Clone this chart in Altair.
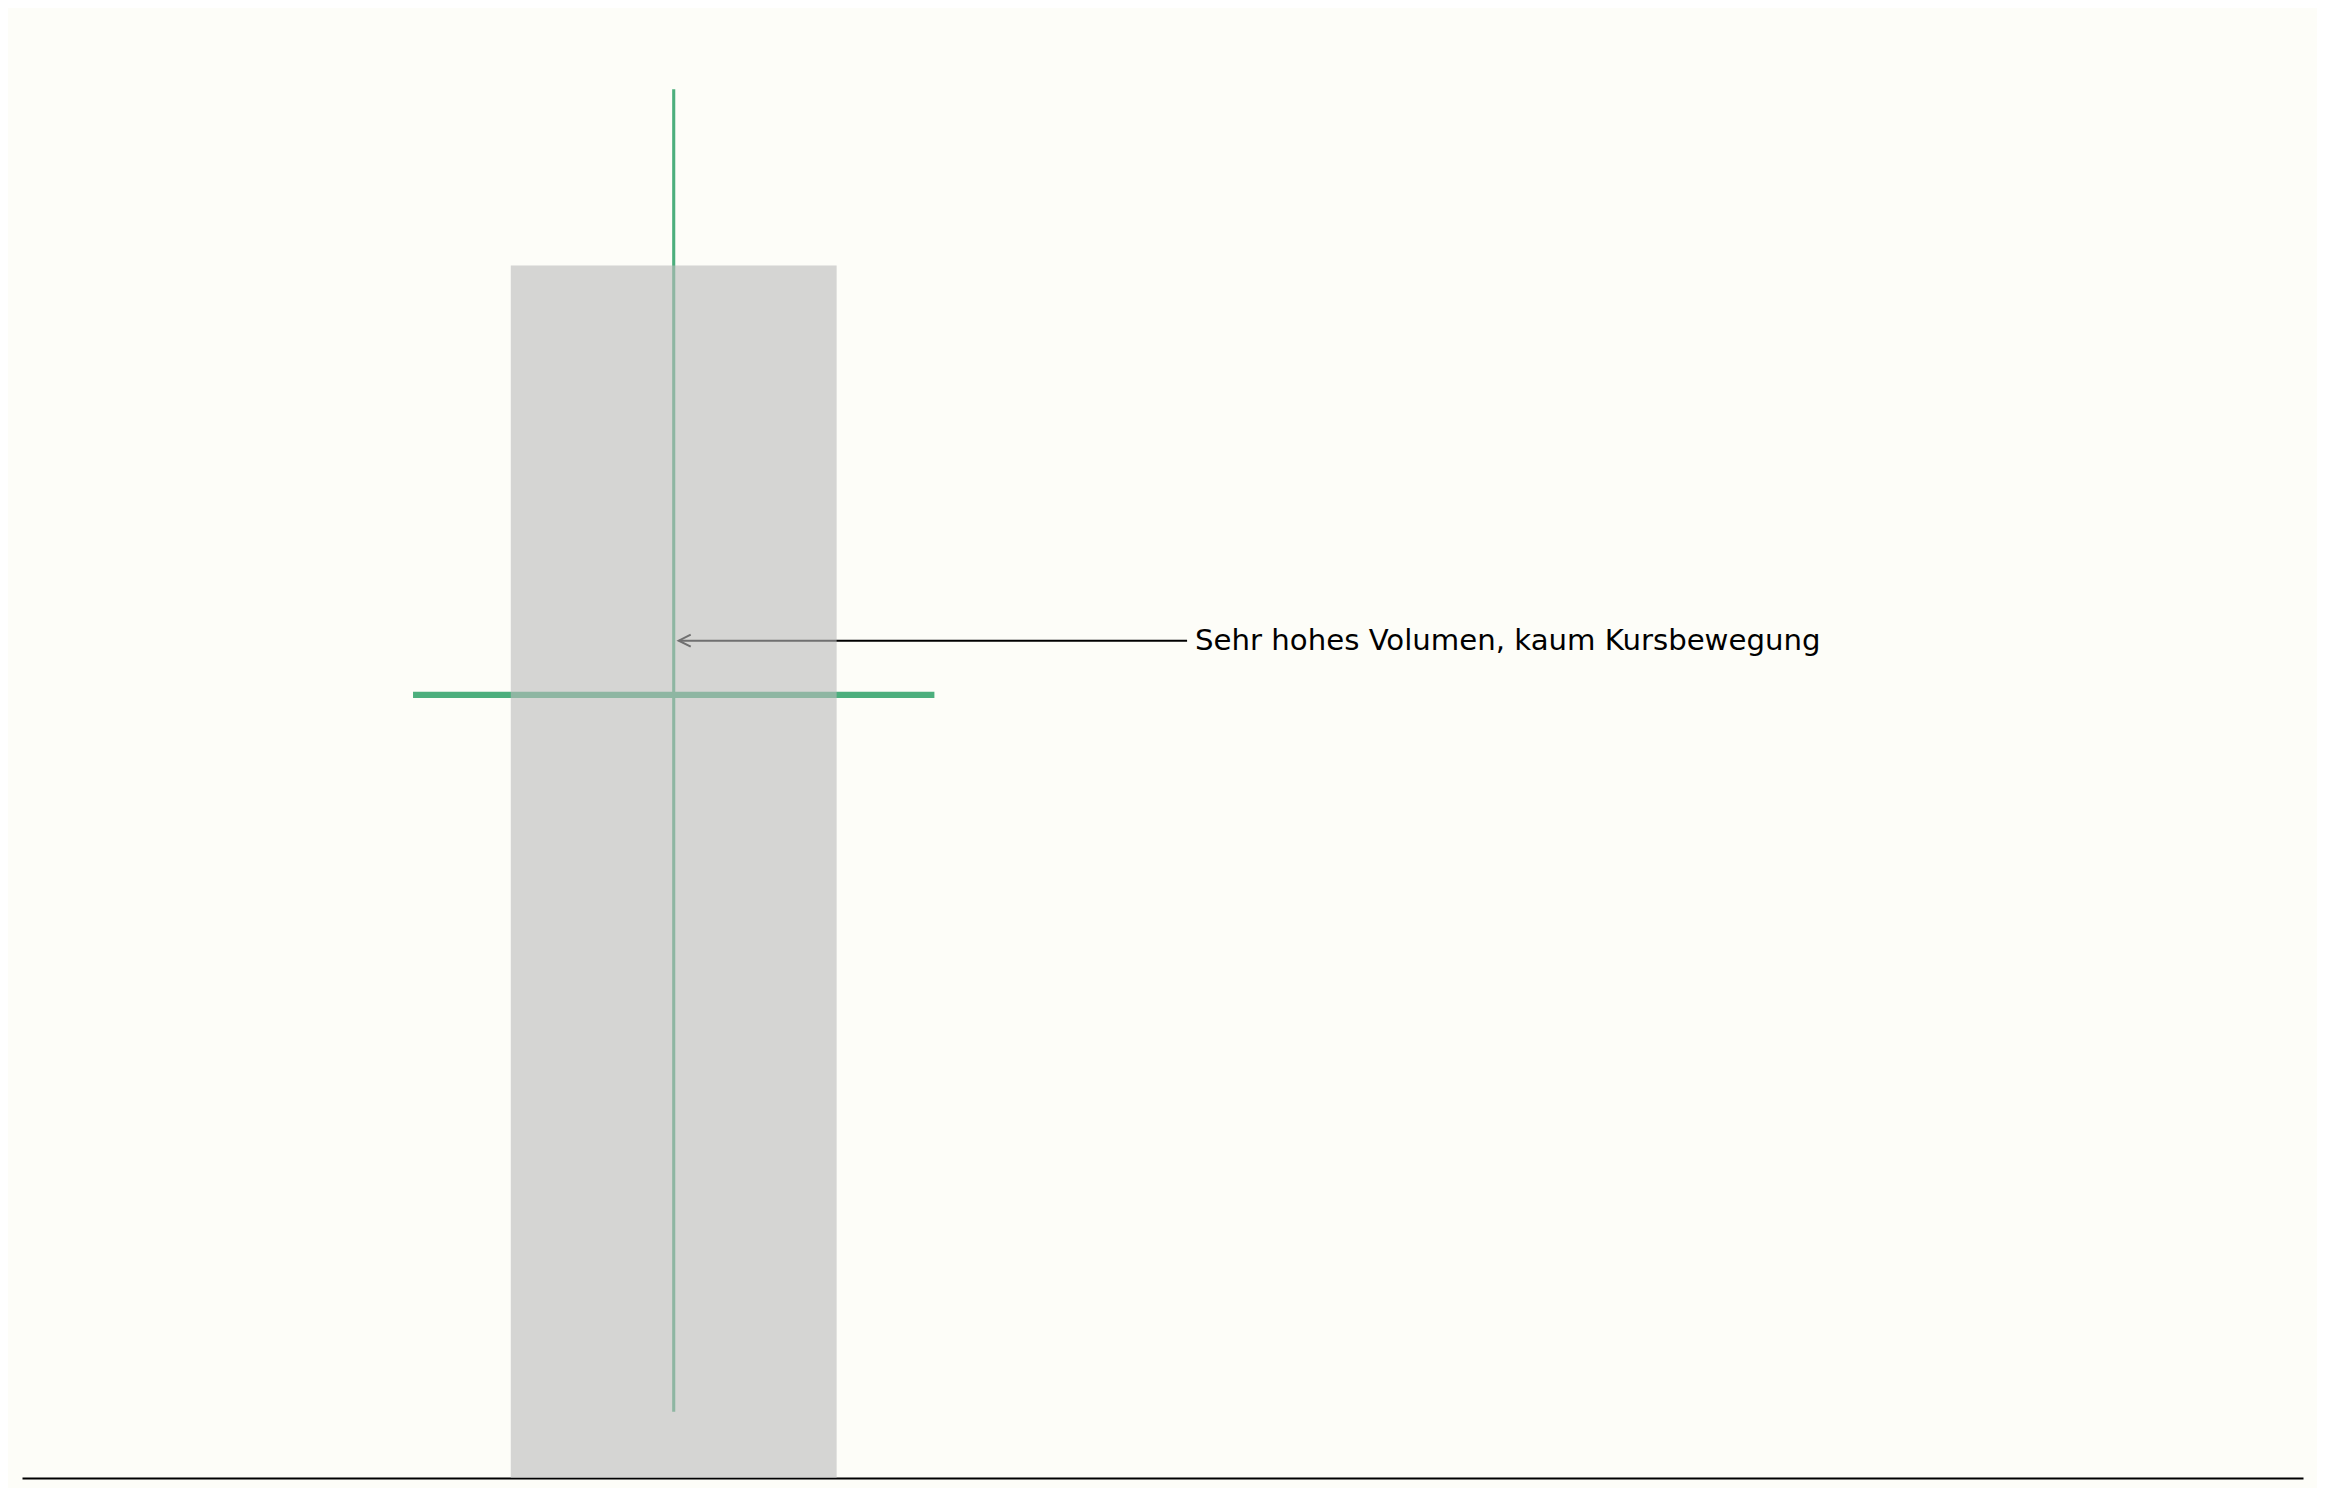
import altair as alt
import pandas as pd

# --- data ---
candle_pos = [0.0]
price_open = [100.42]
price_high = [105.0]
price_low = [95.0]
price_close = [100.42]
volume = [5000000]

note_text = ["Sehr hohes Volumen, kaum Kursbewegung"]
note_x = [0.0]
note_y = [100.83]
note_text_x = [0.8]

BODY_HALF = 0.4
VOL_HALF = 0.25
GREEN = "#4CAF7D"
BG = "#FDFDF8"

candles = pd.DataFrame({
    "pos": candle_pos,
    "open": price_open,
    "high": price_high,
    "low": price_low,
    "close": price_close,
    "volume": volume,
})
candles["body_l"] = candles["pos"] - BODY_HALF
candles["body_r"] = candles["pos"] + BODY_HALF
candles["vol_l"] = candles["pos"] - VOL_HALF
candles["vol_r"] = candles["pos"] + VOL_HALF
candles["vol0"] = 0

notes = pd.DataFrame({"text": note_text, "x": note_x, "y": note_y, "tx": note_text_x})

lo, hi = min(price_low), max(price_high)
rng = hi - lo
price_domain = [lo - 0.05 * rng, hi + 0.05 * rng]
vol_domain = [0, max(volume) * 1.2]

xscale = alt.Scale(domain=[-1, 2.5], nice=False, zero=False)
pscale = alt.Scale(domain=price_domain, nice=False, zero=False)
vscale = alt.Scale(domain=vol_domain, nice=False)

xaxis = alt.Axis(domain=True, domainColor="black", domainWidth=2, ticks=False,
                 labels=False, grid=False, title=None)

base = alt.Chart(candles)

wick = base.mark_rule(color=GREEN, strokeWidth=3.1).encode(
    x=alt.X("pos:Q", scale=xscale, axis=xaxis),
    y=alt.Y("low:Q", scale=pscale, axis=None),
    y2="high:Q",
)

body = base.mark_rule(color=GREEN, strokeWidth=6.25).encode(
    x=alt.X("body_l:Q", scale=xscale, axis=xaxis),
    x2="body_r:Q",
    y=alt.Y("open:Q", scale=pscale, axis=None),
)

nbase = alt.Chart(notes)

arrow_line = nbase.mark_rule(color="black", strokeWidth=2, xOffset=5, x2Offset=-8).encode(
    x=alt.X("x:Q", scale=xscale, axis=xaxis),
    x2="tx:Q",
    y=alt.Y("y:Q", scale=pscale, axis=None),
)

arrow_head = nbase.mark_point(
    shape="M 2 -1 L 0 0 L 2 1", size=144, filled=False, stroke="black",
    strokeWidth=2, opacity=1, xOffset=5,
).encode(
    x=alt.X("x:Q", scale=xscale, axis=xaxis),
    y=alt.Y("y:Q", scale=pscale, axis=None),
)

label = nbase.mark_text(
    align="left", baseline="middle", font="DejaVu Sans", fontSize=29.2, color="black",
).encode(
    x=alt.X("tx:Q", scale=xscale, axis=xaxis),
    y=alt.Y("y:Q", scale=pscale, axis=None),
    text="text:N",
)

price_layer = alt.layer(wick, body, arrow_line, arrow_head, label)

vol_layer = base.mark_rect(color="#BBBBBB", opacity=0.6).encode(
    x=alt.X("vol_l:Q", scale=xscale, axis=xaxis),
    x2="vol_r:Q",
    y=alt.Y("volume:Q", scale=vscale, axis=None),
    y2="vol0:Q",
)

chart = alt.layer(price_layer, vol_layer).resolve_scale(y="independent").properties(
    width=2281,
    height=1455,
    padding={"left": 14, "top": 15, "right": 14, "bottom": 10},
    background=BG,
).configure_view(strokeWidth=0)

chart.save("out.html", embed_options={"renderer": "svg", "actions": False})
